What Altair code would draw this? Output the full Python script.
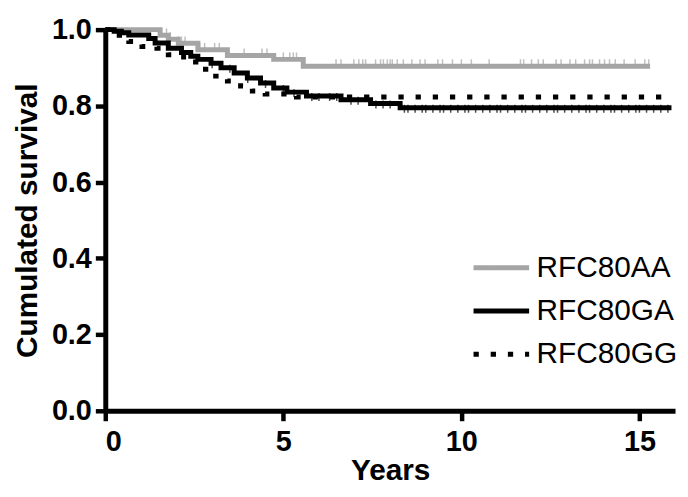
import altair as alt
import pandas as pd
import bisect

# ---- data ----
series_names = ["RFC80AA", "RFC80GA", "RFC80GG"]

aa_t = [0, 1.54, 1.77, 2.05, 2.6, 3.43, 4.73, 5.56, 15.3]
aa_s = [1.0, 0.985, 0.975, 0.964, 0.947, 0.932, 0.922, 0.904, 0.904]

ga_t = [0, 0.25, 0.45, 0.66, 1.22, 1.4, 1.77, 2.14, 2.4, 2.6, 2.97, 3.25, 3.62,
        3.99, 4.36, 4.73, 5.1, 5.65, 6.62, 7.45, 8.28, 15.9]
ga_s = [1.0, 0.996, 0.992, 0.986, 0.977, 0.965, 0.951, 0.94, 0.93, 0.922, 0.912,
        0.9, 0.886, 0.873, 0.86, 0.847, 0.836, 0.826, 0.816, 0.806, 0.795, 0.795]

gg_t = [0, 0.3, 0.66, 1.03, 1.45, 1.77, 2.2, 2.69, 3.1, 3.43, 3.8, 4.13, 4.49, 5.37, 15.9]
gg_s = [1.0, 0.985, 0.969, 0.956, 0.951, 0.934, 0.915, 0.896, 0.878, 0.865, 0.852,
        0.839, 0.831, 0.823, 0.823]

# censored observations (tick marks)
aa_cens = [1.54, 1.72, 1.82, 2.05, 2.14, 2.24, 2.65, 2.79, 3.07, 3.2, 3.9, 4.4, 4.54,
           5.0, 5.18, 5.28, 5.37, 6.48, 6.62, 6.98, 7.12, 7.23, 7.31, 7.59, 7.73, 7.81,
           7.92, 8.0, 8.06, 8.2, 8.37, 8.61, 8.84, 8.98, 9.34, 9.47, 9.75, 10.0, 10.28,
           10.78, 11.66, 11.75, 11.97, 12.16, 12.3, 12.66, 12.8, 13.05, 13.21, 13.46,
           13.6, 13.68, 13.88, 14.02, 14.16, 14.32, 14.57, 14.88, 15.15, 15.26]
ga_cens = [3.0, 3.5, 4.0, 4.5, 5.0, 5.3, 5.8, 6.0, 6.3, 6.5, 6.9, 7.1, 7.6, 7.8, 8.0,
           8.4, 8.5, 8.7, 8.9, 9.0, 9.2, 9.4, 9.5, 9.7, 9.9, 10.1, 10.2, 10.4, 10.6,
           10.8, 11.0, 11.1, 11.3, 11.5, 11.7, 11.8, 12.0, 12.2, 12.4, 12.6, 12.7, 12.9,
           13.1, 13.3, 13.5, 13.6, 13.8, 14.0, 14.2, 14.3, 14.5, 14.7, 14.9, 15.0, 15.2,
           15.4, 15.6, 15.8]

x_ticks = [0, 5, 10, 15]
y_ticks = [0.0, 0.2, 0.4, 0.6, 0.8, 1.0]

GRAY = "#a5a5a5"
FONT = "Liberation Sans"


def step_at(ts, ss, x):
    i = bisect.bisect_right(ts, x) - 1
    return ss[max(i, 0)]


rows = []
for name, ts, ss in zip(series_names, [aa_t, ga_t, gg_t], [aa_s, ga_s, gg_s]):
    for t, s in zip(ts, ss):
        rows.append({"group": name, "t": t, "s": s})
lines_df = pd.DataFrame(rows)

aa_c_df = pd.DataFrame({"t": aa_cens, "s": [step_at(aa_t, aa_s, c) for c in aa_cens]})
ga_c_df = pd.DataFrame({"t": ga_cens, "s": [step_at(ga_t, ga_s, c) for c in ga_cens]})

xscale = alt.Scale(domain=[0, 16], nice=False, zero=False)
yscale = alt.Scale(domain=[0, 1], nice=False)

x_enc = alt.X("t:Q", scale=xscale,
              axis=alt.Axis(title="Years", values=x_ticks, format="d",
                            titleY=69, titleBaseline="alphabetic"))
y_enc = alt.Y("s:Q", scale=yscale,
              axis=alt.Axis(title="Cumulated survival", values=y_ticks, format=".1f",
                            titleX=-69, titleY=192, titleBaseline="alphabetic",
                            titleAngle=270))

lines = alt.Chart(lines_df).mark_line(
    interpolate="step-after", strokeWidth=5, strokeCap="butt"
).encode(
    x=x_enc,
    y=y_enc,
    color=alt.Color("group:N",
                    scale=alt.Scale(domain=series_names, range=[GRAY, "black", "black"]),
                    legend=alt.Legend(title=None)),
    strokeDash=alt.StrokeDash("group:N",
                              scale=alt.Scale(domain=series_names,
                                              range=[[1, 0], [1, 0], [5.3, 12]]),
                              legend=alt.Legend(title=None)),
)

aa_ticks = alt.Chart(aa_c_df).mark_tick(
    orient="vertical", color=GRAY, thickness=1.5, size=8, yOffset=-3
).encode(x=alt.X("t:Q", scale=xscale), y=alt.Y("s:Q", scale=yscale))

ga_ticks = alt.Chart(ga_c_df).mark_tick(
    orient="vertical", color="black", thickness=1.5, size=8, yOffset=1
).encode(x=alt.X("t:Q", scale=xscale), y=alt.Y("s:Q", scale=yscale))

chart = alt.layer(aa_ticks, ga_ticks, lines).properties(
    width=574, height=384,
    autosize=alt.AutoSizeParams(type="none"),
    padding={"left": 98, "top": 20, "right": 5, "bottom": 77},
).configure_view(stroke=None).configure_axis(
    grid=False,
    domainColor="black", domainWidth=5,
    tickColor="black", tickWidth=4.5, tickSize=10,
    labelFont=FONT, labelFontSize=29, labelFontWeight="bold", labelColor="black",
    titleFont=FONT, titleFontSize=30, titleFontWeight="bold", titleColor="black",
).configure_axisX(labelPadding=7).configure_axisY(labelPadding=4).configure_legend(
    orient="none", legendX=382.5, legendY=223.5, padding=0,
    symbolType="M-2,0L2,0", symbolSize=784, symbolStrokeWidth=5,
    labelFont=FONT, labelFontSize=30, labelColor="black", labelOffset=19,
    rowPadding=11.5, labelLimit=300,
)

chart.save("out.html", embed_options={"renderer": "svg", "actions": False})
